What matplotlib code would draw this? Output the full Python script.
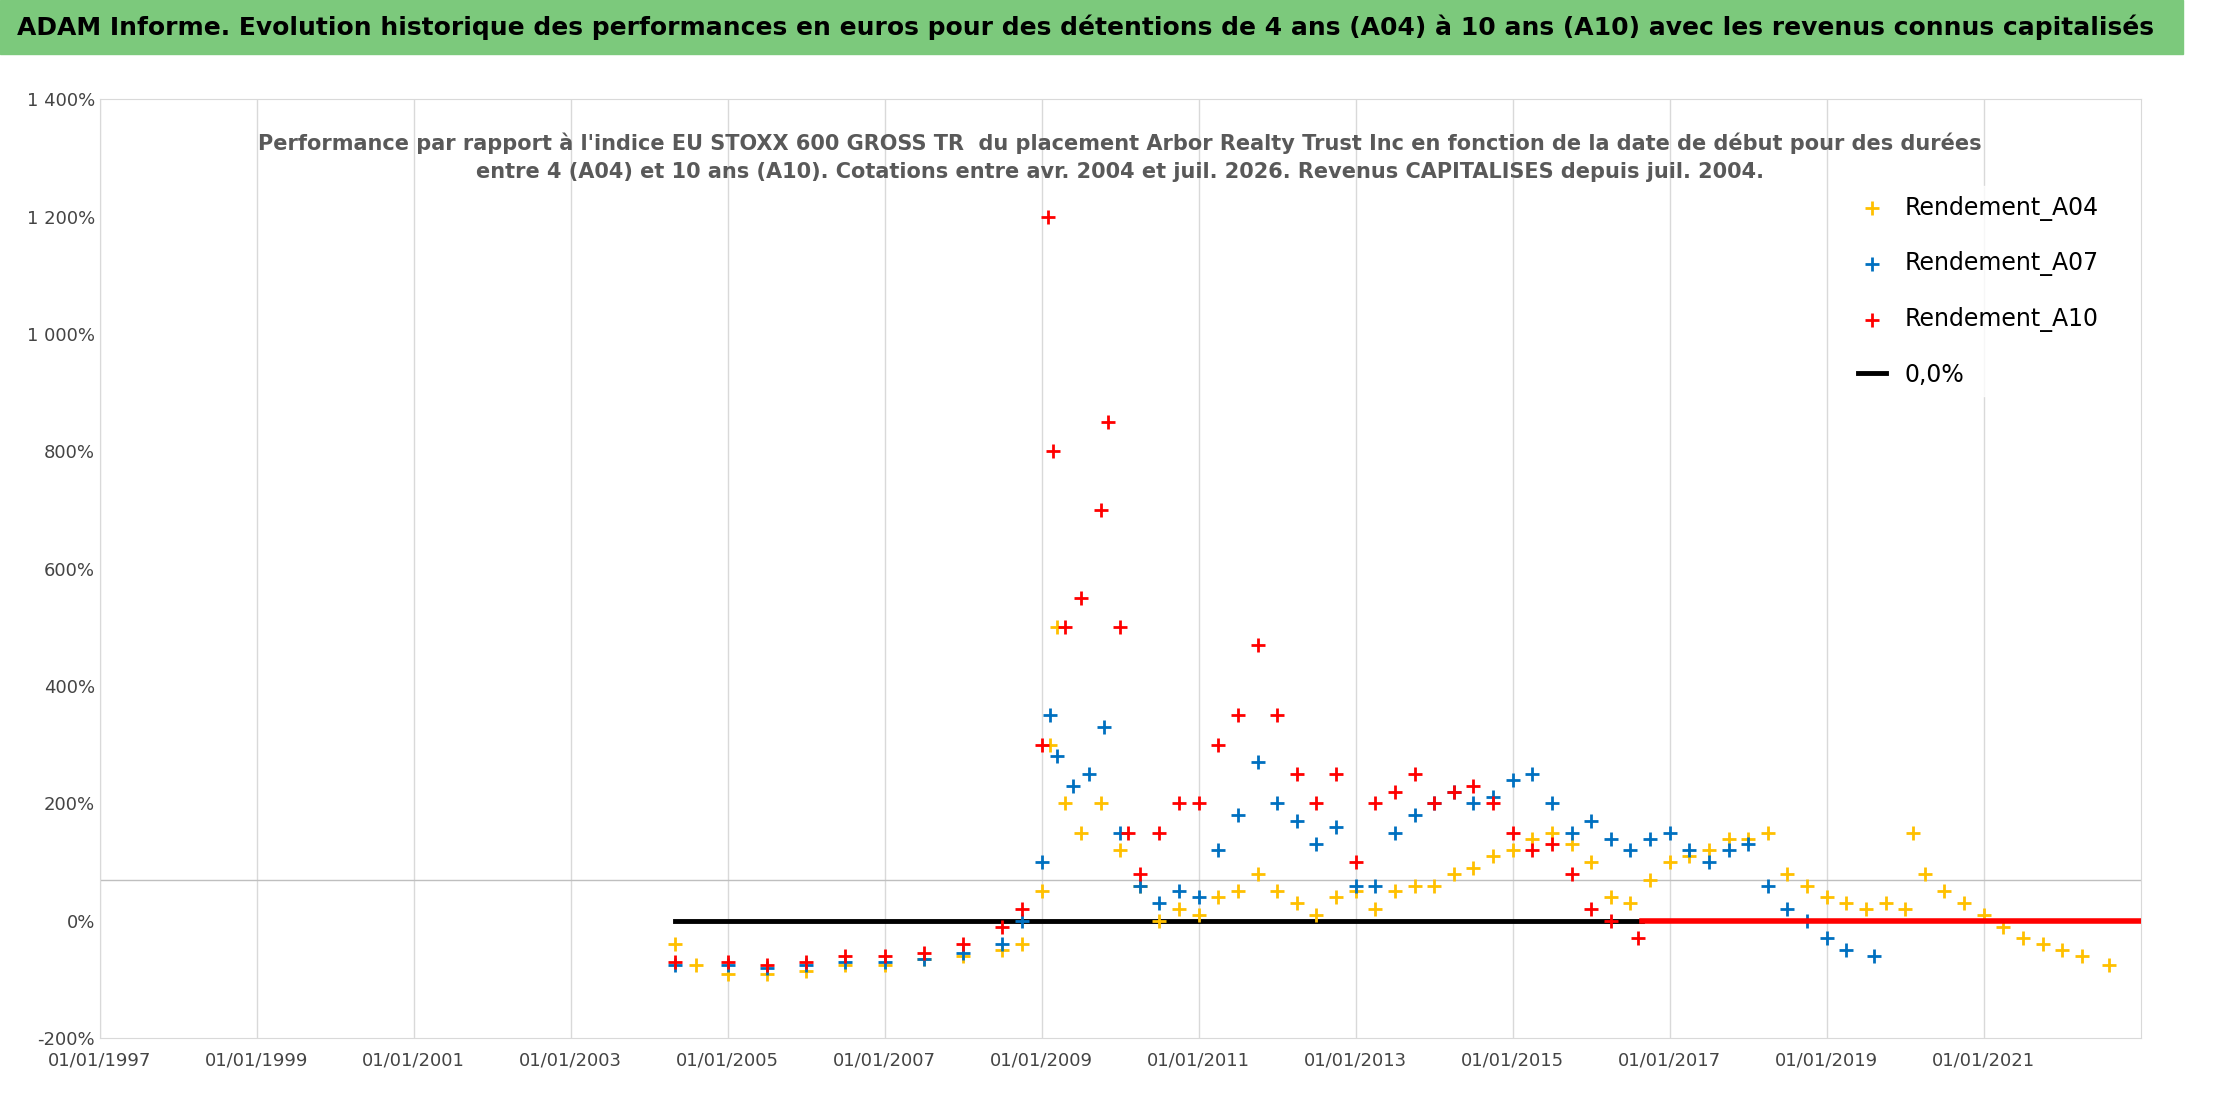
import matplotlib.pyplot as plt

plt.rcParams['font.family'] = ['DejaVu Sans']

# decimal years and performance in %
a04_t = [2004.33, 2004.6, 2005.0, 2005.5, 2006.0, 2006.5, 2007.0, 2007.5, 2008.0, 2008.5, 2008.75,
         2009.0, 2009.1, 2009.2, 2009.3, 2009.5, 2009.75, 2010.0, 2010.25, 2010.5, 2010.75,
         2011.0, 2011.25, 2011.5, 2011.75, 2012.0, 2012.25, 2012.5, 2012.75, 2013.0, 2013.25,
         2013.5, 2013.75, 2014.0, 2014.25, 2014.5, 2014.75, 2015.0, 2015.25, 2015.5, 2015.75,
         2016.0, 2016.25, 2016.5, 2016.75, 2017.0, 2017.25, 2017.5, 2017.75, 2018.0, 2018.25,
         2018.5, 2018.75, 2019.0, 2019.25, 2019.5, 2019.75, 2020.0, 2020.1, 2020.25, 2020.5,
         2020.75, 2021.0, 2021.25, 2021.5, 2021.75, 2022.0, 2022.25, 2022.6]
a04_v = [-40, -75, -90, -90, -85, -75, -75, -65, -60, -50, -40,
         50, 300, 500, 200, 150, 200, 120, 60, 0, 20,
         10, 40, 50, 80, 50, 30, 10, 40, 50, 20,
         50, 60, 60, 80, 90, 110, 120, 140, 150, 130,
         100, 40, 30, 70, 100, 110, 120, 140, 140, 150,
         80, 60, 40, 30, 20, 30, 20, 150, 80, 50,
         30, 10, -10, -30, -40, -50, -60, -75]

a07_t = [2004.33, 2005.0, 2005.5, 2006.0, 2006.5, 2007.0, 2007.5, 2008.0, 2008.5, 2008.75,
         2009.0, 2009.1, 2009.2, 2009.4, 2009.6, 2009.8, 2010.0, 2010.25, 2010.5, 2010.75,
         2011.0, 2011.25, 2011.5, 2011.75, 2012.0, 2012.25, 2012.5, 2012.75, 2013.0, 2013.25,
         2013.5, 2013.75, 2014.0, 2014.25, 2014.5, 2014.75, 2015.0, 2015.25, 2015.5, 2015.75,
         2016.0, 2016.25, 2016.5, 2016.75, 2017.0, 2017.25, 2017.5, 2017.75, 2018.0, 2018.25,
         2018.5, 2018.75, 2019.0, 2019.25, 2019.6]
a07_v = [-75, -75, -80, -75, -70, -70, -65, -55, -40, 0,
         100, 350, 280, 230, 250, 330, 150, 60, 30, 50,
         40, 120, 180, 270, 200, 170, 130, 160, 60, 60,
         150, 180, 200, 220, 200, 210, 240, 250, 200, 150,
         170, 140, 120, 140, 150, 120, 100, 120, 130, 60,
         20, 0, -30, -50, -60]

a10_t = [2004.33, 2005.0, 2005.5, 2006.0, 2006.5, 2007.0, 2007.5, 2008.0, 2008.5, 2008.75,
         2009.0, 2009.08, 2009.15, 2009.3, 2009.5, 2009.75, 2009.85, 2010.0, 2010.1, 2010.25,
         2010.5, 2010.75, 2011.0, 2011.25, 2011.5, 2011.75, 2012.0, 2012.25, 2012.5, 2012.75,
         2013.0, 2013.25, 2013.5, 2013.75, 2014.0, 2014.25, 2014.5, 2014.75, 2015.0, 2015.25,
         2015.5, 2015.75, 2016.0, 2016.25, 2016.6]
a10_v = [-70, -70, -75, -70, -60, -60, -55, -40, -10, 20,
         300, 1200, 800, 500, 550, 700, 850, 500, 150, 80,
         150, 200, 200, 300, 350, 470, 350, 250, 200, 250,
         100, 200, 220, 250, 200, 220, 230, 200, 150, 120,
         130, 80, 20, 0, -30]
a10_zero_span = [2016.65, 2023.0]
zero_span = [2004.33, 2016.65]

years = list(range(1997, 2022, 2))

fig = plt.figure(figsize=(22.16, 11.02), dpi=100)
fig.patches.append(plt.Rectangle((0, 0.951), 0.985, 0.049, transform=fig.transFigure,
                                 color='#7cc97c', zorder=0))
fig.text(0.49, 0.975, "ADAM Informe. Evolution historique des performances en euros pour des détentions de 4 ans (A04) à 10 ans (A10) avec les revenus connus capitalisés",
         ha='center', va='center', fontsize=18, fontweight='bold')

ax = fig.add_axes([0.045, 0.058, 0.921, 0.852])
ax.set_xlim(1997, 2023)
ax.set_ylim(-200, 1400)
ax.set_xticks(years)
ax.set_xticklabels([f"01/01/{y}" for y in years], fontsize=13, color='#444444')
ax.set_yticks(range(-200, 1401, 200))
ax.set_yticklabels([f"{v:,}%".replace(",", " ") for v in range(-200, 1401, 200)], fontsize=13, color='#444444')
ax.grid(axis='x', color='#d9d9d9', lw=1)
ax.tick_params(length=0)
ax.tick_params(axis='x', pad=10)
for s in ax.spines.values():
    s.set_color('#d9d9d9')
ax.axhline(70, color='#bfbfbf', lw=1)

ax.plot(zero_span, [0, 0], color='black', lw=3.5, label='0,0%', zorder=2)
ax.scatter(a04_t, a04_v, marker='+', s=90, color='#ffc000', lw=2, label='Rendement_A04', zorder=3)
ax.scatter(a07_t, a07_v, marker='+', s=90, color='#0070c0', lw=2, label='Rendement_A07', zorder=3)
ax.scatter(a10_t, a10_v, marker='+', s=90, color='#ff0000', lw=2, label='Rendement_A10', zorder=4)
ax.plot(a10_zero_span, [0, 0], color='#ff0000', lw=4, zorder=4)

h, l = ax.get_legend_handles_labels()
order = [1, 2, 3, 0]
ax.legend([h[i] for i in order], [l[i] for i in order], loc='upper right', bbox_to_anchor=(0.99, 0.92),
          fontsize=17, frameon=True, edgecolor='white', labelspacing=1.3, handlelength=1.2)

ax.text(0.5, 0.965, "Performance par rapport à l'indice EU STOXX 600 GROSS TR  du placement Arbor Realty Trust Inc en fonction de la date de début pour des durées\nentre 4 (A04) et 10 ans (A10). Cotations entre avr. 2004 et juil. 2026. Revenus CAPITALISES depuis juil. 2004.",
        transform=ax.transAxes, ha='center', va='top', fontsize=15, fontweight='bold', color='#595959',
        linespacing=1.5)

fig.savefig('out.png')
